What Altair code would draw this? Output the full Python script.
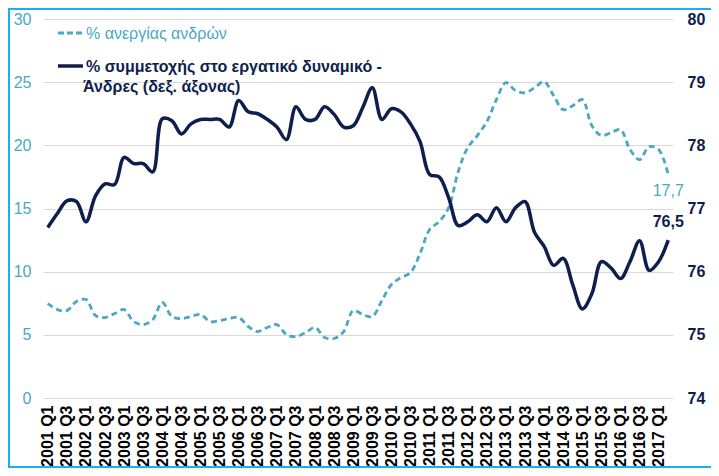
import altair as alt
import pandas as pd

quarters = [f"{y} Q{q}" for y in range(2001, 2018) for q in (1, 2, 3, 4)][:66]

unemployment = [
    7.48, 7.00, 6.92, 7.63, 7.79, 6.53, 6.37, 6.68, 7.00, 6.05,
    5.81, 6.21, 7.56, 6.45, 6.29, 6.45, 6.61, 6.05, 6.13, 6.29,
    6.37, 5.66, 5.26, 5.58, 5.81, 5.02, 4.86, 5.18, 5.58, 4.79,
    4.71, 5.26, 6.92, 6.61, 6.45, 7.71, 8.98, 9.53, 9.93, 11.43,
    13.33, 13.96, 15.07, 17.92, 19.82, 20.77, 21.87, 23.62, 24.96, 24.33,
    24.16, 24.56, 25.04, 23.93, 22.82, 23.14, 23.62, 21.56, 20.77, 21.00,
    21.24, 19.66, 18.87, 19.90, 19.66, 17.70,
]

participation = [
    76.70, 76.92, 77.12, 77.11, 76.79, 77.20, 77.39, 77.38, 77.81, 77.71,
    77.71, 77.58, 78.42, 78.39, 78.18, 78.34, 78.41, 78.41, 78.41, 78.29,
    78.71, 78.53, 78.50, 78.41, 78.29, 78.09, 78.61, 78.41, 78.41, 78.61,
    78.49, 78.29, 78.31, 78.60, 78.91, 78.41, 78.58, 78.53, 78.34, 78.06,
    77.54, 77.50, 77.17, 76.73, 76.79, 76.90, 76.79, 77.01, 76.79, 77.01,
    77.11, 76.62, 76.40, 76.10, 76.21, 75.79, 75.41, 75.65, 76.16, 76.06,
    75.89, 76.16, 76.49, 76.02, 76.16, 76.50,
]

legend_unemp = "% ανεργίας ανδρών"
legend_part_1 = "% συμμετοχής στο εργατικό δυναμικό -"
legend_part_2 = "Άνδρες (δεξ. άξονας)"

left_ticks = [0, 5, 10, 15, 20, 25, 30]
right_ticks = [74, 75, 76, 77, 78, 79, 80]
x_labels = quarters[::2]
last_q = quarters[-1]

TEAL = "#4aa8c4"
NAVY = "#0e1f4d"
FRAME = "#1ab0ee"
FONT = "Liberation Sans"
W, H = 630, 379
PAD = {"left": 35, "top": 11, "right": 38, "bottom": 70}

df = pd.DataFrame({"quarter": quarters, "unemp": unemployment, "part": participation})
one = pd.DataFrame({"k": [0]})


def x_enc():
    return alt.X(
        "quarter:O",
        sort=quarters,
        scale=alt.Scale(type="point", padding=0.5),
        axis=alt.Axis(
            values=x_labels, labelAngle=-90, labelFontWeight="bold",
            labelFontSize=16, labelColor="#000000", labelFont=FONT,
            labelPadding=7, labelOverlap=False, domain=False, ticks=False,
            grid=False, title=None,
        ),
    )


y_left = alt.Y(
    "unemp:Q",
    scale=alt.Scale(domain=[0, 30], nice=False, zero=False),
    axis=alt.Axis(
        values=left_ticks, orient="left", labelColor=TEAL, labelFontSize=16,
        labelFont=FONT, labelPadding=12, domain=False, ticks=False, grid=True,
        gridColor="#d9d9d9", gridWidth=1, title=None,
    ),
)
y_right = alt.Y(
    "part:Q",
    scale=alt.Scale(domain=[74, 80], nice=False, zero=False),
    axis=alt.Axis(
        values=right_ticks, orient="right", labelColor=NAVY, labelFontSize=16,
        labelFontWeight="bold", labelFont=FONT, labelPadding=14, domain=False,
        ticks=False, grid=False, title=None,
    ),
)

base = alt.Chart(df)

unemp_line = base.mark_line(
    color=TEAL, strokeWidth=2.8, strokeDash=[6, 4], interpolate="catmull-rom"
).encode(x=x_enc(), y=y_left)

unemp_label = base.transform_filter(
    alt.datum.quarter == last_q
).transform_calculate(
    label="replace(format(datum.unemp, '.1f'), '.', ',')"
).mark_text(
    color=TEAL, fontSize=16, font=FONT, dy=17, align="center", baseline="middle"
).encode(x=x_enc(), y=y_left, text="label:N")

part_line = base.mark_line(
    color=NAVY, strokeWidth=3.5, interpolate="catmull-rom"
).encode(x=x_enc(), y=y_right)

part_label = base.transform_filter(
    alt.datum.quarter == last_q
).transform_calculate(
    label="replace(format(datum.part, '.1f'), '.', ',')"
).mark_text(
    color=NAVY, fontSize=16, font=FONT, fontWeight="bold", dy=-18,
    align="center", baseline="middle"
).encode(x=x_enc(), y=y_right, text="label:N")

left = alt.layer(unemp_line, unemp_label)
right = alt.layer(part_line, part_label)

ob = alt.Chart(one)
frame_top = ob.mark_rule(color=FRAME, strokeWidth=2).encode(
    x=alt.value(-35), x2=alt.value(W + PAD["right"]), y=alt.value(-10))
frame_left = ob.mark_rule(color=FRAME, strokeWidth=2).encode(
    x=alt.value(-34), y=alt.value(-11), y2=alt.value(H + PAD["bottom"]))
frame_bottom = ob.mark_rule(color=FRAME, strokeWidth=2).encode(
    x=alt.value(-35), x2=alt.value(W + PAD["right"]), y=alt.value(H + PAD["bottom"] - 1))

leg_sym1 = ob.mark_rule(color=TEAL, strokeWidth=2.8, strokeDash=[6, 3]).encode(
    x=alt.value(15), x2=alt.value(40), y=alt.value(14))
leg_txt1 = ob.mark_text(align="left", baseline="middle", font=FONT, fontSize=16,
                        color=TEAL).encode(
    x=alt.value(43), y=alt.value(15), text=alt.value(legend_unemp))
leg_sym2 = ob.mark_rule(color=NAVY, strokeWidth=3.5).encode(
    x=alt.value(15), x2=alt.value(40), y=alt.value(47))
leg_txt2 = ob.mark_text(align="left", baseline="middle", font=FONT, fontSize=16,
                        fontWeight="bold", color=NAVY).encode(
    x=alt.value(43), y=alt.value(48), text=alt.value(legend_part_1))
leg_txt3 = ob.mark_text(align="left", baseline="middle", font=FONT, fontSize=16,
                        fontWeight="bold", color=NAVY).encode(
    x=alt.value(40), y=alt.value(68), text=alt.value(legend_part_2))

chart = alt.layer(
    left, right,
    frame_top, frame_left, frame_bottom,
    leg_sym1, leg_txt1, leg_sym2, leg_txt2, leg_txt3,
).resolve_scale(
    y="independent"
).properties(
    width=W, height=H, padding=PAD,
    autosize=alt.AutoSizeParams(type="none"),
    background="white",
).configure_view(stroke=None)

chart.save("out.html", embed_options={"renderer": "svg", "actions": False})
